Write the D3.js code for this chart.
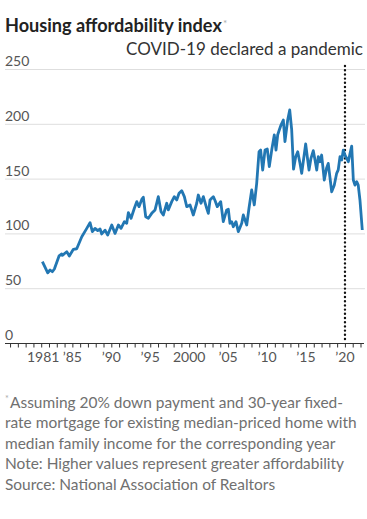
<!DOCTYPE html>
<html>
<head>
<meta charset="utf-8">
<script src="https://cdn.jsdelivr.net/npm/d3@7"></script>
<style>
  body { margin: 0; background: #fff; }
  svg { display: block; }
</style>
</head>
<body>
<svg id="chart" width="367" height="519"></svg>
<script>
// fractional years
var years = [1981.15, 1981.84, 1982.14, 1982.43, 1982.69, 1983.29, 1983.64, 1983.72, 1984.28, 1984.61,
    1985.13, 1985.56, 1986.21, 1986.85, 1987.27, 1987.57, 1987.91, 1988.26, 1988.56, 1988.77,
    1989.20, 1989.54, 1990.06, 1990.48, 1990.91, 1991.25, 1991.68, 1991.98, 1992.19, 1992.54,
    1992.96, 1993.27, 1993.56, 1993.91, 1994.11, 1994.42, 1994.76, 1995.19, 1995.62, 1996.04,
    1996.39, 1996.68, 1997.12, 1997.32, 1997.76, 1998.09, 1998.40, 1998.70, 1999.04, 1999.38,
    1999.69, 2000.11, 2000.53, 2000.97, 2001.17, 2001.52, 2001.82, 2002.25, 2002.46, 2002.68,
    2002.89, 2003.10, 2003.32, 2003.61, 2004.05, 2004.38, 2004.82, 2005.03, 2005.24, 2005.46,
    2005.67, 2006.01, 2006.31, 2006.75, 2006.95, 2007.39, 2007.68, 2008.03, 2008.36, 2008.67,
    2008.97, 2009.18, 2009.44, 2009.74, 2010.03, 2010.29, 2010.60, 2010.93, 2011.15, 2011.37,
    2011.57, 2011.79, 2012.09, 2012.30, 2012.65, 2012.91, 2013.16, 2013.40, 2013.68, 2013.94,
    2014.23, 2014.45, 2014.65, 2014.96, 2015.22, 2015.39, 2015.64, 2015.94, 2016.16, 2016.38,
    2016.58, 2016.80, 2017.01, 2017.35, 2017.66, 2017.86, 2018.08, 2018.30, 2018.63, 2018.94,
    2019.14, 2019.37, 2019.59, 2019.79, 2020.01, 2020.23, 2020.44, 2020.66, 2020.87, 2021.08,
    2021.29, 2021.51, 2021.71, 2021.93, 2022.23];

var index = [74.2, 64, 66.6, 65, 67.5, 79.4, 81.2, 80, 83.3, 79.4,
    85.5, 86, 97, 104.6, 109.8, 101.6, 104.6, 102.5, 104, 99.5,
    103, 98.5, 107.7, 100, 107.7, 104.6, 110.7, 109.2, 118.9, 113.8,
    122.9, 129, 124.4, 131, 133, 115.2, 113.8, 118.3, 121.4, 133.5,
    119.8, 116.8, 127.5, 121.4, 129, 133.5, 130.5, 136.6, 139, 133.5,
    124.4, 126, 116.8, 127.5, 135, 127.5, 133.5, 122.9, 118.3, 130.5,
    132, 133.5, 130, 124.4, 129, 110.7, 121.4, 122, 109.2, 110.7,
    106.1, 110.7, 101.6, 109.2, 116.8, 107.7, 122.9, 139.6, 126, 145.7,
    174.5, 176, 157.8, 176, 177, 160.9, 176, 189.8, 176, 190,
    194.3, 198.9, 203.5, 183.7, 203.5, 212.6, 195, 158.6, 170, 174.5,
    164, 154.8, 165.4, 181.6, 167, 157.8, 168.5, 175.5, 167, 157.8,
    170, 165.4, 171.5, 148.7, 160, 163.9, 151, 138, 144, 154.8,
    158, 170, 167, 176, 171.5, 168.5, 165.4, 173, 179.7, 148.7,
    144, 147.2, 144, 130.5, 103.1];

var yTicks = [0, 50, 100, 150, 200, 250];
var xTicks = [1981, 1985, 1990, 1995, 2000, 2005, 2010, 2015, 2020];
var xTickLabels = ["1981", "\u201985", "\u201990", "\u201995", "2000", "\u201905", "\u201910", "\u201915", "\u201920"];
var covidYear = 2020.2;

var title = "Housing affordability index";
var annotation = "COVID-19 declared a pandemic";
var notes = [
    "Assuming 20% down payment and 30-year fixed-",
    "rate mortgage for existing median-priced home with",
    "median family income for the corresponding year",
    "Note: Higher values represent greater affordability",
    "Source: National Association of Realtors"
];

var data = years.map(function (d, i) { return { year: d, value: index[i] }; });

var svg = d3.select("#chart");
var font = "Lato, 'Open Sans', sans-serif";

var x = d3.scaleLinear().domain([1976.35, 2022.45]).range([5, 364]),
    y = d3.scaleLinear().domain([0, 250]).range([343, 69]);

// shrink or grow a text's font size so it fills a given width
function fit(sel, width) {
    var size = parseFloat(sel.attr("font-size"));
    var w = sel.node().getComputedTextLength();
    sel.attr("font-size", (size * width / w).toFixed(2) + "px");
    return size * width / w;
}

// title
var t = svg.append("text")
    .attr("x", 5)
    .attr("y", 31.5)
    .attr("font-family", font)
    .attr("font-weight", "bold")
    .attr("font-size", "17px")
    .style("fill", "#222")
    .text(title);
fit(t, 217);
svg.append("text")
    .attr("x", 223)
    .attr("y", 27)
    .attr("font-family", font)
    .attr("font-size", "10px")
    .style("fill", "#aaa")
    .text("*");

// grid + y labels
svg.append("g").selectAll("line")
    .data(yTicks.filter(function (d) { return d > 0; }))
    .enter().append("line")
    .attr("x1", 5)
    .attr("x2", 365)
    .attr("y1", function (d) { return y(d) + 0.5; })
    .attr("y2", function (d) { return y(d) + 0.5; })
    .style("stroke", "#dedede")
    .style("stroke-width", 1);

svg.append("g").selectAll("text")
    .data(yTicks)
    .enter().append("text")
    .attr("x", 5)
    .attr("y", function (d) { return y(d) - 3; })
    .attr("font-family", font)
    .attr("font-size", "14px")
    .style("fill", "#555")
    .text(function (d) { return d; });

// covid annotation
var a = svg.append("text")
    .attr("x", 363)
    .attr("y", 55)
    .attr("text-anchor", "end")
    .attr("font-family", font)
    .attr("font-size", "16px")
    .style("fill", "#333")
    .text(annotation);
fit(a, 237);

svg.append("line")
    .attr("x1", x(covidYear) - 1.5)
    .attr("x2", x(covidYear) - 1.5)
    .attr("y1", 66)
    .attr("y2", 343)
    .style("stroke", "#111")
    .style("stroke-width", 2.4)
    .style("stroke-linecap", "round")
    .style("stroke-dasharray", "0 4.2");

// x axis
var xAxis = svg.append("g")
    .attr("transform", "translate(0,343.5)")
    .call(d3.axisBottom(x)
        .tickValues(d3.range(1977, 2023))
        .tickSize(4)
        .tickFormat(""));
xAxis.select(".domain").attr("d", "M5,0H364").style("stroke", "#333");
xAxis.selectAll(".tick line").style("stroke", "#333");

svg.append("g").selectAll("text")
    .data(xTicks)
    .enter().append("text")
    .attr("x", function (d) { return x(d) + (d === 1981 ? 2 : 0); })
    .attr("y", 362)
    .attr("text-anchor", "middle")
    .attr("font-family", font)
    .attr("font-size", "14px")
    .style("fill", "#555")
    .text(function (d, i) { return xTickLabels[i]; });

// the line
svg.append("path")
    .datum(data)
    .attr("d", d3.line()
        .x(function (d) { return x(d.year); })
        .y(function (d) { return y(d.value); }))
    .style("fill", "none")
    .style("stroke", "#2277b3")
    .style("stroke-width", 2.8)
    .style("stroke-linejoin", "round");

// footnotes
var foot = svg.append("g").selectAll("text")
    .data(notes)
    .enter().append("text")
    .attr("x", function (d, i) { return i === 0 ? 10 : 5; })
    .attr("y", function (d, i) { return 407.5 + i * 20.5; })
    .attr("font-family", font)
    .attr("font-size", "15px")
    .style("fill", "#707070")
    .text(function (d) { return d; });
var fs = fit(d3.select(foot.nodes()[1]), 352);
foot.attr("font-size", fs.toFixed(2) + "px");

svg.append("text")
    .attr("x", 5)
    .attr("y", 402)
    .attr("font-family", font)
    .attr("font-size", "9px")
    .style("fill", "#aaa")
    .text("*");
</script>
</body>
</html>
